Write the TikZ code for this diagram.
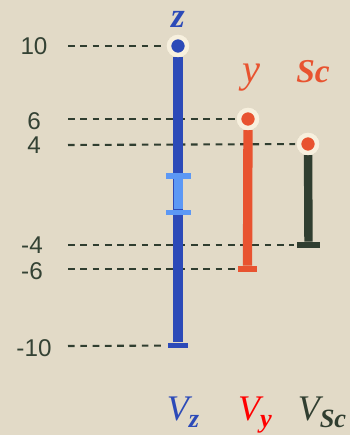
\documentclass[tikz,border=0pt]{standalone}
\usepackage{fontspec}
\setmainfont{Liberation Sans}
\newfontfamily\lblfont{Liberation Serif}
\usetikzlibrary{positioning}
\definecolor{paper}{RGB}{226,218,199}
\definecolor{cream}{RGB}{247,240,222}
\definecolor{zblue}{RGB}{44,74,184}
\definecolor{zlight}{RGB}{92,152,245}
\definecolor{yred}{RGB}{232,83,48}
\definecolor{scdark}{RGB}{48,62,48}
\definecolor{numcol}{RGB}{52,66,52}
\tikzset{
  numlbl/.style={text=numcol, inner sep=0pt, font=\fontsize{13.8}{14}\selectfont},
  dashln/.style={draw=scdark, line width=1.2pt, dash pattern=on 3.8pt off 3.2pt, shorten >=1pt},
  vline/.style={line width=5.3pt},
  dotring/.style={circle, draw=cream, line width=2.5pt, minimum size=10.2pt, inner sep=0pt},
  capbox/.style={rectangle, inner sep=0pt, minimum width=11.3pt, minimum height=3.4pt},
  toplbl/.style={anchor=base, inner sep=0pt, font=\lblfont\bfseries\itshape},
  botlbl/.style={anchor=base, inner sep=0pt, font=\lblfont\itshape\fontsize{20.5}{22}\selectfont},
}
\newcommand{\subz}[1]{\raisebox{-4.5pt}{\bfseries\fontsize{15}{16}\selectfont #1}}

\begin{document}
\begin{tikzpicture}[x=0.02cm, y=-0.02cm]
    \useasboundingbox[fill=paper] (0,0) rectangle (350,435);
    % ----- value labels -----
    \node[numlbl] (n10) at (34,46) {10};
    \node[numlbl] (n6) at (34,121) {6};
    \node[numlbl] (n4) at (34,145) {4};
    \node[numlbl] (nm4) at (32,245) {-4};
    \node[numlbl] (nm6) at (32,271) {-6};
    \node[numlbl] (nm10) at (34,348) {-10};
    \foreach \v/\y in {10/46, 6/119, 4/145, m4/245, m6/269, m10/346}
      \coordinate (g\v) at (68,\y);
    % ----- ends of the ranges -----
    \node[dotring, fill=zblue] (ztop) at (178,46) {};
    \node[capbox, fill=zblue] (zbot) at (178,345.5) {};
    \node[dotring, fill=yred] (ytop) at (248,119) {};
    \node[capbox, fill=yred] (ybot) at (247.5,269) {};
    \node[dotring, fill=yred] (sctop) at (308,144) {};
    \node[capbox, fill=scdark, minimum width=13.6pt] (scbot) at (308.5,245) {};
    % ----- guides (under the bars) -----
    \draw[dashln] (g10) -- (ztop);
    \draw[dashln] (g6) -- (ytop);
    \draw[dashln] (g4) -- (sctop);
    \draw[dashln] (gm4) -- (scbot);
    \draw[dashln] (gm6) -- (ybot);
    \draw[dashln] (gm10) -- (zbot);
    % ----- bars -----
    \draw[vline, zblue] (ztop) -- (zbot);
    \draw[vline, yred] (ytop) -- (ybot);
    \draw[vline, scdark, line width=4.8pt] (sctop) -- (scbot);
    \node[dotring, fill=zblue] at (ztop) {};
    \node[dotring, fill=yred] at (ytop) {};
    \node[dotring, fill=yred] at (sctop) {};
    % inner interval on z
    \node[capbox, fill=zlight, minimum width=14.2pt] (zin1) at (178.5,176) {};
    \node[capbox, fill=zlight, minimum width=14.2pt] (zin2) at (178.5,212.5) {};
    \draw[zlight, line width=5.5pt] (zin1) -- (zin2);
    % ----- names -----
    \node[toplbl, text=zblue, font=\lblfont\bfseries\itshape\fontsize{20}{22}\selectfont] (lz) at (178,28) {z};
    \node[toplbl, text=yred, font=\lblfont\itshape\fontsize{23}{25}\selectfont] (ly) at (251,83) {y};
    \node[toplbl, text=yred, font=\lblfont\bfseries\itshape\fontsize{19}{21}\selectfont] (lsc) at (313,83) {Sc};
    \node[botlbl, text=zblue] (vz) at (183,420) {V\subz{z}};
    \node[botlbl, text=red] (vy) at (255,420) {V\subz{y}};
    \node[botlbl, text=scdark] (vsc) at (322,420) {V\subz{Sc}};
\end{tikzpicture}
\end{document}
